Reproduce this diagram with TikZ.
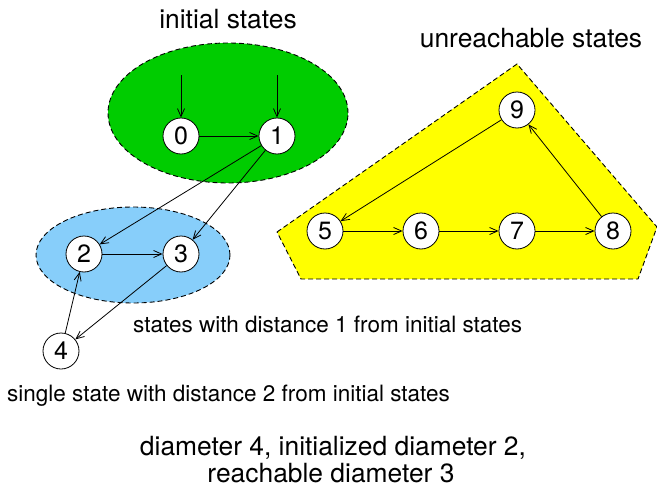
\documentclass[tikz,border=0pt]{standalone}
\usepackage{fontspec}
\setmainfont{TeX Gyre Heros}
\usetikzlibrary{arrows.meta}
\definecolor{initgreen}{RGB}{0,204,0}
\definecolor{distblue}{RGB}{135,206,250}
\definecolor{unreachyellow}{RGB}{255,255,0}
\begin{document}
\begin{tikzpicture}[x=1pt,y=-1pt,
  statenode/.style={circle,draw,fill=white,line width=0.8pt,minimum size=36pt,inner sep=0pt,font=\fontsize{25}{25}\selectfont},
  region/.style={draw,line width=0.9pt,dash pattern=on 5pt off 3pt},
  edge/.style={line width=0.8pt,-{Straight Barb[length=8pt,width=7pt]}},
  midlabel/.style={inner sep=0pt,font=\fontsize{22.5}{24}\selectfont},
  biglabel/.style={inner sep=0pt,font=\fontsize{26.4}{27}\selectfont}]
\useasboundingbox (0,0) rectangle (657,490);
% regions
\draw[region,fill=initgreen] (228,113) ellipse [x radius=120pt, y radius=70pt];
\draw[region,fill=distblue] (133,255) ellipse [x radius=97pt, y radius=48pt];
\draw[region,fill=unreachyellow] (277,232) -- (517,64) -- (657,227) -- (638,279) -- (301,279) -- cycle;
% states
\node[statenode] (s0) at (181,136) {0};
\node[statenode] (s1) at (277,136) {1};
\node[statenode] (s2) at (84,254) {2};
\node[statenode] (s3) at (181,254) {3};
\node[statenode] (s4) at (61,351) {4};
\node[statenode] (s5) at (325,231) {5};
\node[statenode] (s6) at (421,231) {6};
\node[statenode] (s7) at (517,231) {7};
\node[statenode] (s8) at (613,231) {8};
\node[statenode] (s9) at (517,110) {9};
\coordinate (i0) at (181,75);
\coordinate (i1) at (277,75);
% edges
\draw[edge] (i0) -- (s0);
\draw[edge] (i1) -- (s1);
\draw[edge] (s0) -- (s1);
\draw[edge] (s1) -- (s2);
\draw[edge] (s1) -- (s3);
\draw[edge] (s2) -- (s3);
\draw[edge] (s3) -- (s4);
\draw[edge] (s4) -- (s2);
\draw[edge] (s5) -- (s6);
\draw[edge] (s6) -- (s7);
\draw[edge] (s7) -- (s8);
\draw[edge] (s8) -- (s9);
\draw[edge] (s9) -- (s5);
% labels
\node[biglabel,anchor=base] (tinit) at (228,28) {initial states};
\node[biglabel,anchor=base] (tunreach) at (531,47) {unreachable states};
\node[midlabel,anchor=base west] (tdist1) at (133,332) {states with distance 1 from initial states};
\node[midlabel,anchor=base west] (tdist2) at (7,401) {single state with distance 2 from initial states};
\node[biglabel,anchor=base] (tdiam1) at (333,455) {diameter 4, initialized diameter 2,};
\node[biglabel,anchor=base] (tdiam2) at (331,482) {reachable diameter 3};
\end{tikzpicture}
\end{document}
